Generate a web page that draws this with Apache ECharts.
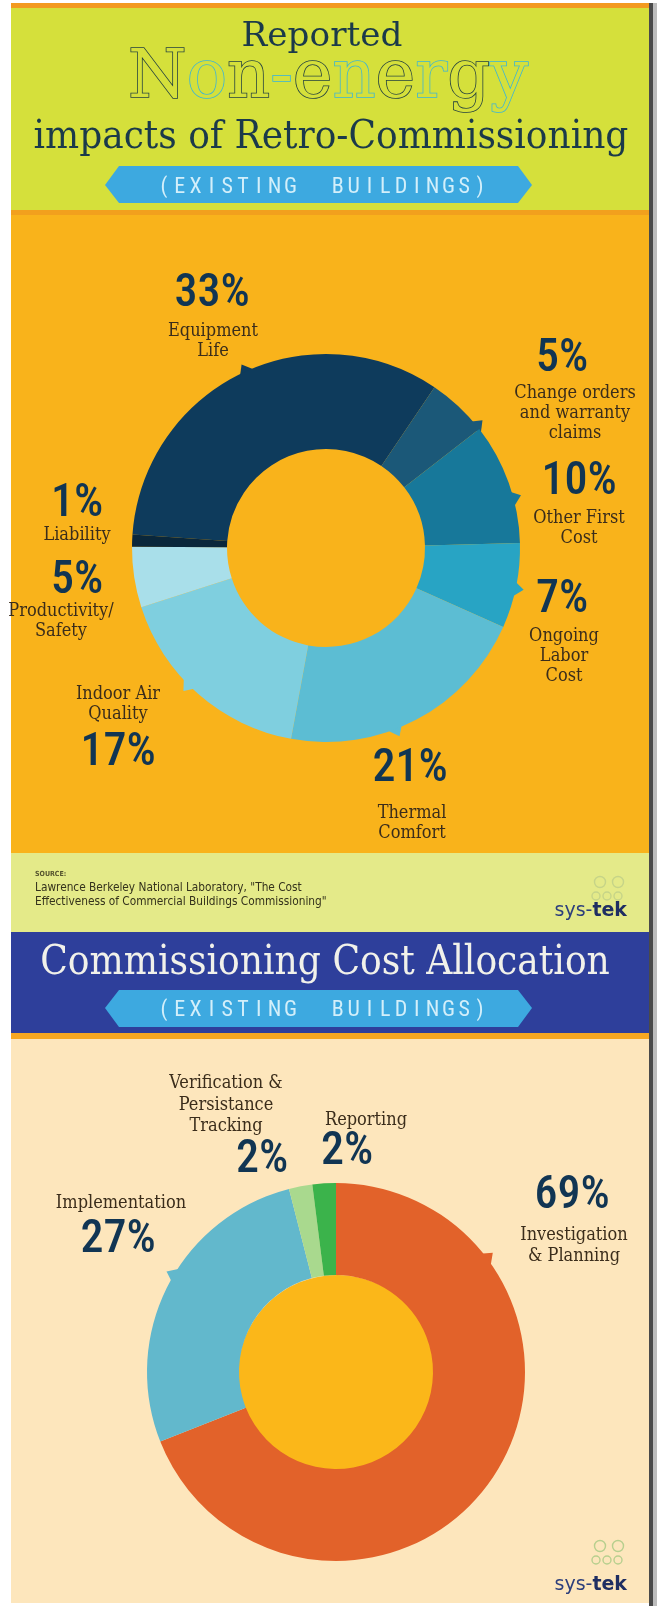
<!DOCTYPE html>
<html>
<head>
<meta charset="utf-8">
<script src="https://cdn.jsdelivr.net/npm/echarts@6/dist/echarts.min.js"></script>
<style>
  html, body { margin: 0; padding: 0; background: #ffffff; }
  #chart { width: 657px; height: 1606px; }
</style>
</head>
<body>
<div id="chart"></div>
<script>
// ---- data: reported non-energy impacts (percent of respondents)
const impactNames = [
  'Equipment\nLife',
  'Change orders\nand warranty\nclaims',
  'Other First\nCost',
  'Ongoing\nLabor\nCost',
  'Thermal\nComfort',
  'Indoor Air\nQuality',
  'Productivity/\nSafety',
  'Liability'
];
const impactValues = [33, 5, 10, 7, 21, 17, 5, 1];

// ---- data: commissioning cost allocation (percent of cost)
const costNames = [
  'Investigation\n& Planning',
  'Implementation',
  'Verification &\nPersistance\nTracking',
  'Reporting'
];
const costValues = [69, 27, 2, 2];

// ---- styling
const impactColors = ['#0e3b5c', '#1b5878', '#17789a', '#28a4c4', '#5cbdd3', '#7fcfdf', '#a9dfea', '#0a273b'];
const costColors = ['#e2622a', '#62b8cc', '#a9d98e', '#3bb34b'];

const NAVY = '#113553';
const BROWN = '#3b2d1b';
const PCT_FONT = "'Liberation Sans Narrow', 'Roboto Condensed', 'DejaVu Sans Condensed', 'Roboto', sans-serif";
const SERIF = "'DejaVu Serif Condensed', 'DejaVu Serif', serif";

// donut geometry
const IMPACT_C = [326, 548], IMPACT_R = [99, 194], IMPACT_START = 176;
const COST_C = [336, 1372], COST_R = [97, 189], COST_START = 90;

// label anchor points (centres) for each slice, [percent, name]
const impactPctPos  = [[212, 294], [562, 359], [579, 482], [562, 600], [410, 769], [118, 753], [77, 581], [77, 504]];
const impactNamePos = [[213, 341], [575, 413], [579, 528], [564, 656], [412, 823], [118, 704], [61, 621], [77, 535]];
const costPctPos  = [[572, 1196], [118, 1240], [262, 1160], [347, 1152]];
const costNamePos = [[574, 1246], [121, 1203], [226, 1105], [366, 1120]];
// slices that carry a small pointer tab toward their callout
const impactTabs = [true, true, true, true, true, true, false, false];
const costTabs = [true, true, false, false];

const measureCtx = document.createElement('canvas').getContext('2d');
function fitSize(text, family, weight, target) {
  measureCtx.font = weight + ' 100px ' + family;
  return 100 * target / measureCtx.measureText(text).width;
}

function placeAt(table) {
  return function (p) {
    const q = table[p.dataIndex];
    return { x: q[0], y: q[1], align: 'center', verticalAlign: 'middle' };
  };
}

function pieSeries(names, values, colors, center, radius, startAngle, pctPos, namePos, nameLH) {
  const data = names.map((n, i) => ({ name: n, value: values[i], itemStyle: { color: colors[i] } }));
  const ghost = names.map((n, i) => ({ name: n, value: values[i] }));
  return [
    {
      type: 'pie', center: center, radius: radius, startAngle: startAngle, clockwise: true,
      avoidLabelOverlap: false, silent: true, animation: false, z: 3,
      emphasis: { disabled: true },
      label: {
        show: true, position: 'outside', formatter: p => p.value + '%',
        fontFamily: PCT_FONT, fontSize: 46, fontWeight: 500, color: NAVY, lineHeight: 48
      },
      labelLine: { show: false },
      labelLayout: placeAt(pctPos),
      data: data
    },
    {
      type: 'pie', center: center, radius: radius, startAngle: startAngle, clockwise: true,
      avoidLabelOverlap: false, silent: true, animation: false, z: 2,
      emphasis: { disabled: true },
      itemStyle: { color: 'rgba(0,0,0,0)' },
      label: {
        show: true, position: 'outside', formatter: p => p.name,
        fontFamily: SERIF, fontSize: 18, color: BROWN, lineHeight: nameLH, align: 'center'
      },
      labelLine: { show: false },
      labelLayout: placeAt(namePos),
      data: ghost
    }
  ];
}

// small triangular tabs on the ring edge, pointing at each callout
function tabs(flags, colors, center, rOuter, pctPos, out) {
  flags.forEach((on, i) => {
    if (!on) return;
    const dx = pctPos[i][0] - center[0], dy = pctPos[i][1] - center[1];
    const a = Math.atan2(dy, dx), half = 9 / rOuter;
    const pt = (ang, r) => [center[0] + r * Math.cos(ang), center[1] + r * Math.sin(ang)];
    out.push({ type: 'polygon', z: 1,
      shape: { points: [pt(a - half, rOuter - 3), pt(a - half * 0.2, rOuter + 8), pt(a + half, rOuter - 3)] },
      style: { fill: colors[i] } });
  });
}

// ---- page furniture
const L = 11, W = 638;
const graphics = [
  { type: 'rect', shape: { x: 649, y: 3, width: 4, height: 1603 }, style: { fill: '#4a4a4a' }, z: -10 },
  { type: 'rect', shape: { x: 653, y: 3, width: 4, height: 1603 }, style: { fill: '#bdbdbd' }, z: -10 },
  { type: 'rect', shape: { x: L, y: 3, width: W, height: 5 }, style: { fill: '#f39a20' }, z: -10 },
  { type: 'rect', shape: { x: L, y: 8, width: W, height: 202 }, style: { fill: '#d5e03b' }, z: -10 },
  { type: 'rect', shape: { x: L, y: 210, width: W, height: 643 }, style: { fill: '#f9b31b' }, z: -10 },
  { type: 'rect', shape: { x: L, y: 210, width: W, height: 5 }, style: { fill: '#f2a01d' }, z: -9 },
  { type: 'rect', shape: { x: L, y: 853, width: W, height: 79 }, style: { fill: '#e4ea89' }, z: -10 },
  { type: 'rect', shape: { x: L, y: 932, width: W, height: 101 }, style: { fill: '#2e3f9b' }, z: -10 },
  { type: 'rect', shape: { x: L, y: 1033, width: W, height: 6 }, style: { fill: '#f6a722' }, z: -10 },
  { type: 'rect', shape: { x: L, y: 1039, width: W, height: 564 }, style: { fill: '#fde6bc' }, z: -10 },
  // hole of the cost donut
  { type: 'circle', shape: { cx: 337, cy: 1374, r: 99 }, style: { fill: '#fbb719' }, z: -5 }
];
tabs(impactTabs, impactColors, IMPACT_C, IMPACT_R[1], impactPctPos, graphics);
tabs(costTabs, costColors, COST_C, COST_R[1], costPctPos, graphics);

// title block
const TITLE_COLOR = '#1b3a4a';
const serifPlain = "'DejaVu Serif', serif";
const sRep = fitSize('Reported', serifPlain, 'normal', 161);
graphics.push({ type: 'text', x: 322, y: 37, z: 5,
  style: { text: 'Reported', font: sRep + 'px ' + serifPlain, fill: TITLE_COLOR, align: 'center', verticalAlign: 'middle' } });

const neChars = 'Non-energy'.split('');
const sNE = fitSize('Non-energy', serifPlain, 'normal', 400);
const neRich = {
  d: { fontFamily: serifPlain, fontSize: sNE, fill: '#d5e03b', stroke: '#1e3c40', lineWidth: 1.6 },
  c: { fontFamily: serifPlain, fontSize: sNE, fill: '#d5e03b', stroke: '#3ab4d8', lineWidth: 1.6 }
};
const neText = neChars.map((ch, i) => '{' + (i % 2 === 0 ? 'd' : 'c') + '|' + ch + '}').join('');
graphics.push({ type: 'text', x: 328, y: 80, z: 5,
  style: { text: neText, rich: neRich, font: sNE + 'px ' + serifPlain, align: 'center', verticalAlign: 'middle' } });

const impTxt = 'impacts of Retro-Commissioning';
const sImp = fitSize(impTxt, SERIF, 'normal', 595);
graphics.push({ type: 'text', x: 331, y: 151 - 0.346 * sImp, z: 5,
  style: { text: impTxt, font: sImp + 'px ' + SERIF, fill: TITLE_COLOR, align: 'center', verticalAlign: 'middle' } });

// ribbon banners with spaced lettering
function banner(cy, top, bottom) {
  const l = 105, r = 532, notch = 14;
  graphics.push({ type: 'polygon', z: 4,
    shape: { points: [[l, cy], [l + notch, top], [r - notch, top], [r, cy], [r - notch, bottom], [l + notch, bottom]] },
    style: { fill: '#3da9e0' } });
  const glyphs = '(EXISTING  BUILDINGS)'.split('');
  const pitch = 15.8, x0 = 322 - pitch * (glyphs.length - 1) / 2;
  glyphs.forEach((g, i) => {
    if (g === ' ') return;
    graphics.push({ type: 'text', x: x0 + i * pitch, y: cy + 2, z: 5,
      style: { text: g, font: '22px ' + PCT_FONT, fill: '#d3effa', align: 'center', verticalAlign: 'middle' } });
  });
}
banner(185, 166, 203);
banner(1008, 990, 1027);

// source note
const SRC_FONT = "'Liberation Sans Narrow', 'DejaVu Sans Condensed', sans-serif";
const src1 = 'Lawrence Berkeley National Laboratory, "The Cost';
const src2 = 'Effectiveness of Commercial Buildings Commissioning"';
const sSrc = fitSize(src1, SRC_FONT, 'normal', 267);
graphics.push({ type: 'text', x: 35, y: 874, z: 5,
  style: { text: 'SOURCE:', font: 'bold 7px ' + SRC_FONT, fill: '#55532e', align: 'left', verticalAlign: 'middle' } });
graphics.push({ type: 'text', x: 35, y: 888, z: 5,
  style: { text: src1, font: sSrc + 'px ' + SRC_FONT, fill: '#34321c', align: 'left', verticalAlign: 'middle' } });
graphics.push({ type: 'text', x: 35, y: 902, z: 5,
  style: { text: src2, font: sSrc + 'px ' + SRC_FONT, fill: '#34321c', align: 'left', verticalAlign: 'middle' } });

// second heading
const hd2 = 'Commissioning Cost Allocation';
const sHd2 = fitSize(hd2, SERIF, 'normal', 570);
graphics.push({ type: 'text', x: 325, y: 977 - 0.346 * sHd2, z: 5,
  style: { text: hd2, font: sHd2 + 'px ' + SERIF, fill: '#f1f1ea', align: 'center', verticalAlign: 'middle' } });

// sys-tek marks
function logo(iconY, textY, iconColor) {
  const c = [[600, iconY - 6, 5.5], [618, iconY - 6, 5.5], [596, iconY + 8, 4], [607, iconY + 8, 4], [618, iconY + 8, 4]];
  c.forEach(p => graphics.push({ type: 'circle', z: 5, shape: { cx: p[0], cy: p[1], r: p[2] },
    style: { fill: 'none', stroke: iconColor, lineWidth: 1.4 } }));
  graphics.push({ type: 'text', x: 627, y: textY, z: 5,
    style: {
      text: '{a|sys-}{b|tek}', align: 'right', verticalAlign: 'middle',
      rich: {
        a: { fontFamily: "'DejaVu Sans', sans-serif", fontSize: 19, fill: '#2d3f7c' },
        b: { fontFamily: "'DejaVu Sans', sans-serif", fontSize: 19, fontWeight: 'bold', fill: '#1f2e62' }
      }
    } });
}
logo(888, 911, '#c6d488');
logo(1552, 1585, '#b7cf8e');

const option = {
  backgroundColor: '#ffffff',
  animation: false,
  graphic: { elements: graphics },
  series: [
    ...pieSeries(impactNames, impactValues, impactColors, IMPACT_C, IMPACT_R, IMPACT_START, impactPctPos, impactNamePos, 20),
    ...pieSeries(costNames, costValues, costColors, COST_C, COST_R, COST_START, costPctPos, costNamePos, 21.5)
  ]
};

const chart = echarts.init(document.getElementById('chart'), null, { renderer: 'canvas', width: 657, height: 1606 });
chart.setOption(option);
</script>
</body>
</html>
